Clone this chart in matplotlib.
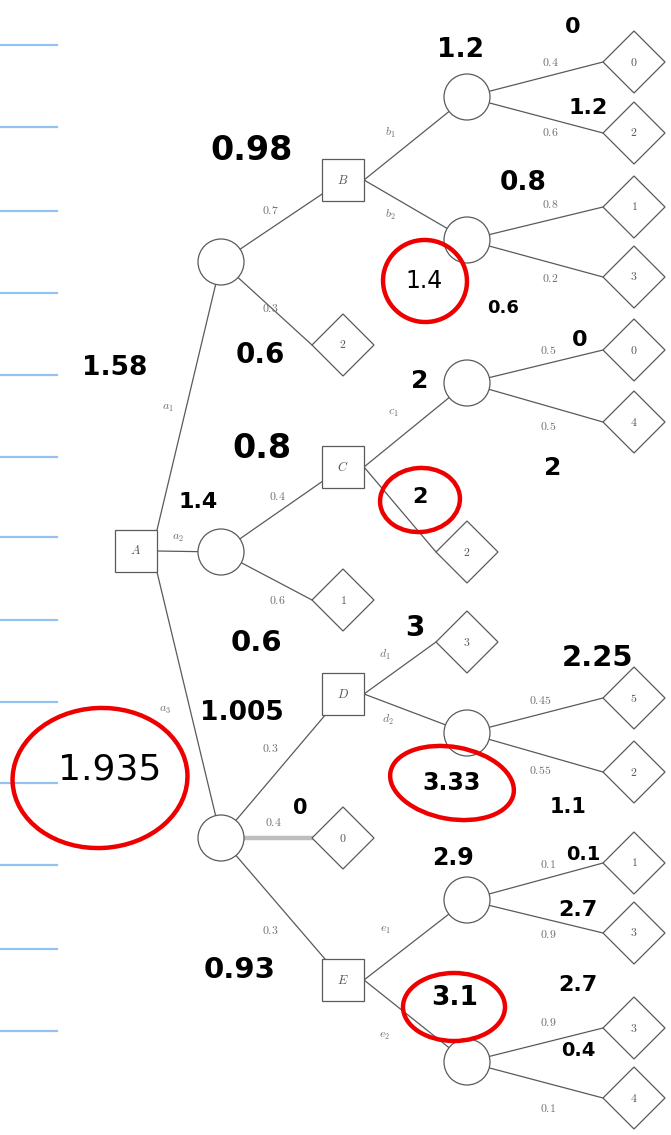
import matplotlib
matplotlib.use("Agg")
from matplotlib import pyplot as plt
from matplotlib.patches import Rectangle, Circle, Polygon, Ellipse

plt.rcParams["mathtext.fontset"] = "cm"

# tree structure: node -> kind, label
node_kind = {
    "A": "square", "B": "square", "C": "square", "D": "square", "E": "square",
    "a1": "circle", "a2": "circle", "a3": "circle",
    "b1": "circle", "b2": "circle", "c1": "circle", "d2": "circle",
    "e1": "circle", "e2": "circle",
}

# payoffs at the leaves (diamonds)
leaf_payoff = {
    "L_a1": 2, "L_a2": 1, "L_a3": 0, "L_c2": 2, "L_d1": 3,
    "L_b1a": 0, "L_b1b": 2, "L_b2a": 1, "L_b2b": 3,
    "L_c1a": 0, "L_c1b": 4, "L_d2a": 5, "L_d2b": 2,
    "L_e1a": 1, "L_e1b": 3, "L_e2a": 3, "L_e2b": 4,
}

# edges: parent, child, label
edges = [
    ("A", "a1", "a_1"), ("A", "a2", "a_2"), ("A", "a3", "a_3"),
    ("a1", "B", "0.7"), ("a1", "L_a1", "0.3"),
    ("a2", "C", "0.4"), ("a2", "L_a2", "0.6"),
    ("a3", "D", "0.3"), ("a3", "L_a3", "0.4"), ("a3", "E", "0.3"),
    ("B", "b1", "b_1"), ("B", "b2", "b_2"),
    ("C", "c1", "c_1"), ("C", "L_c2", ""),
    ("D", "L_d1", "d_1"), ("D", "d2", "d_2"),
    ("E", "e1", "e_1"), ("E", "e2", "e_2"),
    ("b1", "L_b1a", "0.4"), ("b1", "L_b1b", "0.6"),
    ("b2", "L_b2a", "0.8"), ("b2", "L_b2b", "0.2"),
    ("c1", "L_c1a", "0.5"), ("c1", "L_c1b", "0.5"),
    ("d2", "L_d2a", "0.45"), ("d2", "L_d2b", "0.55"),
    ("e1", "L_e1a", "0.1"), ("e1", "L_e1b", "0.9"),
    ("e2", "L_e2a", "0.9"), ("e2", "L_e2b", "0.1"),
]

# handwritten expected values written on the print-out
notes = ["0", "1.2", "1.2", "0.98", "0.8", "1.4", "0.6", "1.58", "0.6", "0",
         "2", "0.8", "1.4", "2", "2", "3", "2.25", "0.6", "1.005", "1.935",
         "0", "3.33", "1.1", "2.9", "0.1", "2.7", "0.93", "3.1", "2.7", "0.4"]
thin_notes = [5, 19]   # written with a thinner pen

# ---- layout (pixels, y downwards) ----
pos = {
    "A": (136, 551), "a1": (221, 262), "a2": (221, 552), "a3": (221, 838),
    "B": (343, 180), "C": (343, 467), "D": (343, 694), "E": (343, 980),
    "L_a1": (343, 345), "L_a2": (343, 600), "L_a3": (343, 838),
    "b1": (467, 97), "b2": (467, 240), "c1": (467, 383), "L_c2": (467, 552),
    "L_d1": (467, 642), "d2": (467, 733), "e1": (467, 900), "e2": (467, 1062),
    "L_b1a": (634, 62), "L_b1b": (634, 133), "L_b2a": (634, 207), "L_b2b": (634, 277),
    "L_c1a": (634, 350), "L_c1b": (634, 422), "L_d2a": (634, 698), "L_d2b": (634, 772),
    "L_e1a": (634, 863), "L_e1b": (634, 933), "L_e2a": (634, 1028), "L_e2b": (634, 1098),
}
label_pos = [
    (168, 408), (178, 537), (165, 710),
    (270, 211), (270, 308), (277, 497), (277, 601),
    (270, 748), (273, 822), (270, 930),
    (390, 133), (390, 215), (393, 413), None,
    (385, 655), (388, 720), (385, 930), (385, 1036),
    (550, 62), (550, 132), (550, 205), (550, 278),
    (548, 350), (548, 426), (540, 700), (540, 770),
    (548, 865), (548, 935), (548, 1022), (548, 1108),
]
note_pos = [(573, 27), (460, 50), (588, 108), (252, 150), (523, 183), (424, 281),
            (503, 308), (115, 368), (260, 355), (580, 340), (420, 381), (262, 448),
            (198, 502), (553, 468), (420, 497), (415, 628), (597, 658), (256, 643),
            (242, 713), (110, 770), (300, 808), (452, 783), (568, 807), (453, 858),
            (583, 855), (578, 910), (240, 970), (455, 998), (578, 985), (578, 1050)]
note_size = [16, 19, 16, 24, 19, 17, 13, 19, 20, 16, 18, 24, 16, 18, 16, 20,
             21, 21, 19, 26, 15, 17, 15, 17, 14, 16, 21, 19, 16, 14]
ring_pos = [(425, 281, 84, 82, 10), (420, 500, 80, 64, -5), (100, 778, 175, 140, -3),
            (452, 783, 125, 72, 10), (454, 1007, 102, 68, 0)]
blue_rules = [45, 127, 211, 293, 375, 457, 537, 620, 702, 783, 865, 949, 1031]

HS = 21   # half side of squares
R = 23    # circle radius
HD = 31   # half diagonal of diamonds
GREY = "#5a5a5a"

fig = plt.figure(figsize=(6.71, 11.35), dpi=100)
ax = fig.add_axes([0, 0, 1, 1])
ax.set_xlim(0, 671)
ax.set_ylim(1135, 0)
ax.axis("off")

for y in blue_rules:
    ax.plot([0, 57], [y, y], color="#93c3f2", lw=1.6, zorder=1)

for (parent, child, lab), lp in zip(edges, label_pos):
    x0, y0 = pos[parent]
    x1, y1 = pos[child]
    if node_kind.get(parent) == "square":
        dx, dy = x1 - x0, y1 - y0
        sx = x0 + HS
        sy = y0 + (HS if dy > 0 else -HS) if abs(dy) > 2 * dx else y0
    else:
        sx, sy = x0, y0
    if child.startswith("L_"):
        x1 = x1 - HD
    if parent == "a3" and child == "L_a3":
        ax.plot([sx, x1], [sy, y1], color="#bdbdbd", lw=3.2, zorder=2)
    else:
        ax.plot([sx, x1], [sy, y1], color=GREY, lw=0.9, zorder=2)
    if lp is not None and lab:
        ax.text(lp[0], lp[1], "$%s$" % lab, color="#707070", fontsize=8.5,
                ha="center", va="center", zorder=5)

for name, (x, y) in pos.items():
    if name.startswith("L_"):
        ax.add_patch(Polygon([(x - HD, y), (x, y - HD), (x + HD, y), (x, y + HD)],
                             closed=True, fc="white", ec=GREY, lw=0.9, zorder=3))
        ax.text(x, y, "$%d$" % leaf_payoff[name], color="#555555", fontsize=8.5,
                ha="center", va="center", zorder=4)
    elif node_kind[name] == "square":
        ax.add_patch(Rectangle((x - HS, y - HS), 2 * HS, 2 * HS,
                               fc="white", ec=GREY, lw=0.9, zorder=3))
        ax.text(x, y, "$%s$" % name, color="#555555", fontsize=9,
                ha="center", va="center", zorder=4)
    else:
        ax.add_patch(Circle((x, y), R, fc="white", ec=GREY, lw=0.9, zorder=3))

for i, (txt, (x, y), fs) in enumerate(zip(notes, note_pos, note_size)):
    ax.text(x, y, txt, fontsize=fs, family="DejaVu Sans",
            fontweight="normal" if i in thin_notes else "bold", color="black",
            ha="center", va="center", zorder=6)

for cx, cy, w, h, ang in ring_pos:
    ax.add_patch(Ellipse((cx, cy), w, h, angle=ang, fill=False,
                         ec="#ee0000", lw=3.2, zorder=7))

fig.savefig("out.png", dpi=100)
